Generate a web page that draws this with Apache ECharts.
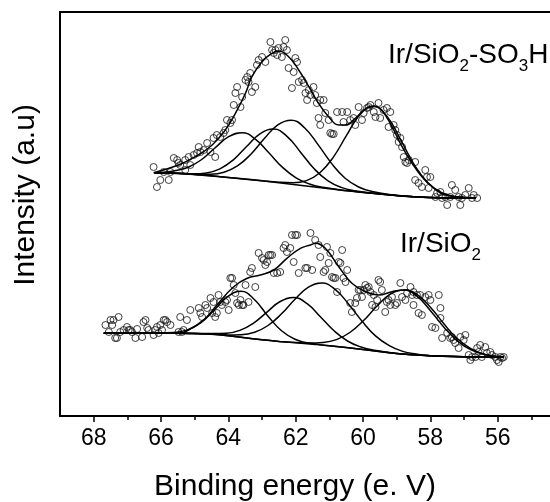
<!DOCTYPE html>
<html>
<head>
<meta charset="utf-8">
<script src="https://cdn.jsdelivr.net/npm/echarts@6.0.0/dist/echarts.min.js"></script>
<style>
  html, body { margin: 0; padding: 0; background: #fff; }
  #chart { width: 550px; height: 502px; }
</style>
</head>
<body>
<div id="chart"></div>
<script>
// Ir 4f XPS spectra: binding energy (eV) against intensity (arbitrary units)

const majorTicks = [56, 58, 60, 62, 64, 66, 68];
const minorTicks = [55, 57, 59, 61, 63, 65, 67];

// ---- Ir/SiO2-SO3H (upper spectrum) ----
const sulfonatedPoints = [
  [66.22,249],[66.12,229],[66.02,236],[65.92,244],[65.77,236],[65.72,244],[65.62,258],[65.52,256],[65.48,253],[65.43,251],
  [65.28,246],[65.28,256],[65.18,259],[65.13,251],[65.03,261],[64.93,263],[64.88,269],[64.83,264],[64.73,266],[64.63,273],
  [64.53,264],[64.44,278],[64.39,259],[64.34,281],[64.24,279],[64.14,283],[64.09,286],[64.04,296],[63.94,293],[63.89,296],
  [63.84,311],[63.79,323],[63.74,329],[63.64,309],[63.59,319],[63.49,336],[63.44,339],[63.40,334],[63.35,343],[63.30,324],
  [63.20,329],[63.15,351],[63.10,356],[63.00,359],[62.90,354],[62.75,374],[62.70,366],[62.65,363],[62.60,366],[62.55,361],
  [62.51,368],[62.41,359],[62.36,369],[62.31,376],[62.26,366],[62.21,348],[62.11,328],[62.06,344],[62.01,358],[61.96,354],
  [61.91,334],[61.81,336],[61.76,333],[61.71,323],[61.66,316],[61.61,326],[61.56,321],[61.47,329],[61.42,321],[61.37,313],
  [61.27,316],[61.17,316],[61.32,298],[61.27,291],[61.12,303],[61.02,296],[60.97,283],[60.92,282],[60.87,282],[60.77,304],
  [60.62,304],[60.47,304],[60.58,294],[60.38,296],[60.28,298],[60.23,291],[60.13,309],[60.03,296],[59.98,303],[59.88,308],
  [59.83,309],[59.78,311],[59.68,304],[59.63,299],[59.54,313],[59.49,298],[59.39,306],[59.29,308],[59.19,304],[59.24,289],
  [59.09,291],[59.04,286],[58.99,281],[58.94,274],[58.89,278],[58.84,269],[58.79,259],[58.74,254],[58.69,253],[58.64,256],
  [58.45,254],[58.45,236],[58.35,233],[58.25,229],[58.15,246],[58.10,239],[58.00,239],[58.05,228],[57.85,219],[57.80,223],
  [57.70,224],[57.65,218],[57.55,219],[57.50,211],[57.41,219],[57.36,231],[57.26,226],[57.16,219],[57.11,211],[57.06,218],
  [56.96,221],[56.86,228],[56.76,218],[56.71,221],[56.61,218]
];
const sulfonatedEnvelope = [
  [66.22,243.3],[65.48,251],[64.98,259.3],[64.48,271],[64.09,286],[63.79,302.7],[63.49,322.7],[63.30,339.3],[63.00,354.3],
  [62.70,362.7],[62.51,365],[62.21,359.3],[61.91,346],[61.61,329.3],[61.32,312.7],[61.02,299.3],[60.72,291],[60.52,291],
  [60.23,297.7],[59.90,308],[59.68,310],[59.43,305],[59.14,289.3],[58.84,269.3],[58.54,252.7],[58.25,239.3],[57.95,229.3],
  [57.55,221],[56.96,218.7],[56.66,217.7]
];
const sulfonatedBackground = [
  [66.2,243.3],[65.5,242.7],[65.0,241.5],[64.5,240.0],[64.0,238.5],[63.5,237.0],[63.0,235.2],[62.5,233.3],[62.0,231.3],
  [61.5,229.3],[61.0,227.3],[60.5,225.3],[60.0,223.6],[59.5,222.0],[59.0,220.5],[58.5,219.3],[58.0,218.5],[57.5,218.0],[56.66,217.7]
];
const sulfonatedPeak1 = [
  [66.2,243.3],[66.0,243.7],[65.59,245.2],[65.19,248.8],[64.79,256.5],[64.39,268.3],[63.99,279.3],[63.59,283.3],[63.19,276.7],
  [62.79,263.0],[62.39,248.6],[61.99,238.2],[61.59,232.0],[61.19,228.7],[60.5,225.4],[59.5,222.0],[58.5,219.3],[57.5,218.0],[56.66,217.7]
];
const sulfonatedPeak2 = [
  [66.2,243.3],[65.5,242.8],[65.05,242.2],[64.65,243.1],[64.25,247.2],[63.85,256.2],[63.45,269.7],[63.05,282.4],[62.65,286.9],
  [62.25,279.4],[61.85,263.6],[61.45,247.2],[61.05,235.4],[60.65,228.6],[60.25,225.2],[59.5,222.0],[58.5,219.3],[57.5,218.0],[56.66,217.7]
];
const sulfonatedPeak3 = [
  [66.2,243.3],[65.5,242.7],[64.93,241.6],[64.53,241.7],[64.13,243.8],[63.73,250.1],[63.33,261.8],[62.93,277.4],[62.53,291.2],
  [62.13,295.8],[61.73,288.0],[61.33,271.1],[60.93,252.4],[60.53,237.8],[60.13,229.0],[59.73,224.4],[59.0,220.6],[58.5,219.3],
  [57.5,218.0],[56.66,217.7]
];
const sulfonatedPeak4 = [
  [66.2,243.3],[65.0,241.5],[64.0,238.5],[63.0,235.2],[62.48,233.7],[62.08,233.2],[61.68,235.4],[61.28,243.2],[60.88,258.9],
  [60.48,281.1],[60.08,301.8],[59.68,309.6],[59.28,299.3],[58.88,276.2],[58.48,251.4],[58.08,233.6],[57.68,223.6],[57.28,219.5],[56.66,217.7]
];

// ---- Ir/SiO2 (lower spectrum) ----
const silicaPoints = [
  [67.65,91],[67.55,84],[67.50,96],[67.45,91],[67.41,96],[67.36,78],[67.31,78],[67.26,99],[67.21,84],[67.11,86],
  [67.01,89],[66.96,86],[66.91,86],[66.86,84],[66.76,78],[66.71,87],[66.56,79],[66.52,94],[66.46,96],[66.41,88],
  [66.37,86],[66.22,81],[66.17,86],[66.12,89],[66.07,83],[66.02,91],[65.97,86],[65.92,96],[65.87,96],[65.82,94],
  [65.72,91],[65.48,84],[65.43,99],[65.38,84],[65.33,86],[65.23,96],[65.13,106],[64.88,108],[64.83,103],[64.78,99],
  [64.68,111],[64.63,108],[64.53,118],[64.48,103],[64.44,114],[64.39,99],[64.34,103],[64.29,121],[64.24,114],[64.19,111],
  [64.09,114],[64.04,116],[63.99,106],[63.94,138],[63.89,138],[63.84,131],[63.79,123],[63.74,113],[63.69,111],[63.64,116],
  [63.59,111],[63.55,111],[63.49,131],[63.40,114],[63.35,144],[63.30,148],[63.20,129],[63.10,163],[63.00,158],[62.95,156],
  [62.90,151],[62.85,154],[62.80,161],[62.75,161],[62.70,161],[62.65,143],[62.55,143],[62.46,144],[62.36,168],[62.31,171],
  [62.26,164],[62.16,168],[62.11,181],[62.01,181],[62.06,154],[61.96,181],[61.91,143],[61.71,148],[61.66,148],[61.56,183],
  [61.42,176],[61.32,171],[61.51,146],[61.27,159],[61.17,144],[61.12,146],[61.07,169],[61.02,153],[60.97,163],[60.92,139],
  [60.87,138],[60.82,138],[60.77,124],[60.72,154],[60.67,153],[60.62,166],[60.58,138],[60.52,134],[60.47,146],[60.38,113],
  [60.33,104],[60.23,113],[60.18,118],[60.13,126],[60.08,126],[60.03,119],[59.98,126],[59.93,131],[59.88,128],[59.83,129],
  [59.78,124],[59.73,111],[59.68,121],[59.63,109],[59.58,116],[59.54,136],[59.49,134],[59.44,126],[59.34,104],[59.29,114],
  [59.24,116],[59.19,111],[59.14,119],[59.04,111],[58.99,113],[58.89,133],[58.84,119],[58.74,116],[58.69,123],[58.59,129],
  [58.54,121],[58.50,111],[58.50,124],[58.40,121],[58.30,121],[58.15,119],[58.05,121],[58.00,116],[57.75,121],[58.35,103],
  [58.25,101],[57.70,108],[57.70,98],[57.95,89],[57.85,88],[57.65,78],[57.50,83],[57.41,78],[57.36,79],[57.31,76],
  [57.26,73],[57.16,68],[57.11,79],[57.01,76],[56.96,81],[56.86,61],[56.81,56],[56.76,59],[56.66,59],[56.61,68],
  [56.57,64],[56.52,71],[56.47,59],[56.37,69],[56.32,63],[56.22,64],[56.17,61],[56.07,59],[56.02,56],[55.97,54],
  [55.92,59],[55.87,58],[55.82,59]
];
const silicaEnvelope = [
  [67.70,82.7],[65.57,82.7],[65.18,86],[64.68,97.7],[64.34,111],[63.84,129.3],[63.44,137.7],[63.05,141],[62.65,146],
  [62.26,157.7],[61.86,167.7],[61.56,171],[61.42,172.7],[61.12,167.7],[60.72,149.3],[60.33,132.7],[59.93,124.3],[59.54,121],
  [59.14,124.3],[58.74,126],[58.45,122.7],[58.20,116],[57.90,105],[57.61,92.7],[57.21,77.7],[56.81,67.7],[56.32,61],[55.82,58.7]
];
const silicaBackground = [
  [67.7,82.7],[65.0,82.6],[64.5,82.0],[64.0,80.2],[63.5,78.3],[63.0,76.2],[62.5,74.6],[62.0,73.2],[61.5,71.8],[61.0,70.3],
  [60.5,68.5],[60.0,66.5],[59.5,64.5],[59.0,62.6],[58.5,61.2],[58.0,60.3],[57.5,59.8],[57.0,59.3],[56.0,58.8],[55.82,58.7]
];
const silicaPeak1 = [
  [67.7,82.7],[66.5,82.7],[65.62,83.5],[65.22,86.1],[64.82,93.2],[64.42,105.9],[64.02,119.4],[63.62,124.8],[63.22,116.2],
  [62.82,99.8],[62.42,85.2],[62.02,76.8],[61.62,72.9],[61.0,70.3],[60.0,66.5],[59.0,62.6],[58.0,60.3],[57.0,59.3],[55.82,58.7]
];
const silicaPeak2 = [
  [67.7,82.7],[66.0,82.7],[65.0,82.6],[64.46,82.5],[64.06,82.7],[63.66,85.6],[63.26,92.7],[62.86,103.7],[62.46,114.5],
  [62.06,118.4],[61.66,112.3],[61.26,99.0],[60.86,85.2],[60.46,75.0],[60.06,69.0],[59.66,65.7],[59.0,62.6],[58.0,60.3],
  [57.0,59.3],[55.82,58.7]
];
const silicaPeak3 = [
  [67.7,82.7],[66.0,82.7],[65.0,82.6],[64.42,81.9],[64.02,81.1],[63.62,81.3],[63.22,83.8],[62.82,90.5],[62.42,102.2],
  [62.02,116.7],[61.62,128.8],[61.22,133.0],[60.82,126.3],[60.42,111.6],[60.02,94.4],[59.62,79.9],[59.22,70.4],[58.82,64.6],
  [58.42,61.9],[58.0,60.3],[57.0,59.3],[55.82,58.7]
];
const silicaPeak4 = [
  [67.7,82.7],[66.0,82.7],[65.0,82.6],[64.0,80.2],[63.0,76.2],[62.39,74.3],[61.99,73.4],[61.59,72.9],[61.19,73.5],[60.79,76.4],
  [60.39,83.5],[59.99,95.2],[59.59,109.7],[59.19,121.9],[58.79,126.0],[58.39,119.6],[57.99,105.1],[57.59,88.6],[57.19,74.9],
  [56.79,66.1],[56.39,61.6],[55.99,59.6],[55.82,59.2]
];

const FONT = '"Liberation Sans", Arial, Helvetica, sans-serif';
const INK = '#000';

function curve(name, data) {
  return {
    name, type: 'line', data, smooth: 0.45, showSymbol: false, symbol: 'none',
    lineStyle: { color: INK, width: 1.5 }, z: 3, silent: true
  };
}
function dots(name, data) {
  return {
    name, type: 'scatter', data, symbol: 'circle', symbolSize: 7,
    itemStyle: { color: 'rgba(0,0,0,0)', borderColor: '#111', borderWidth: 1 }, z: 2, silent: true
  };
}

const chart = echarts.init(document.getElementById('chart'), null, { renderer: 'canvas' });

const energyRange = { type: 'value', inverse: true, min: 54, max: 69, interval: 2, splitLine: { show: false } };

chart.setOption({
  animation: false,
  backgroundColor: '#fff',
  grid: {
    left: 60, top: 12, right: -15, bottom: 86,
    show: false, containLabel: false, outerBoundsMode: 'none'
  },
  xAxis: [
    Object.assign({}, energyRange, {
      position: 'bottom',
      axisLine: { show: true, lineStyle: { color: INK, width: 2 } },
      axisTick: { show: true, inside: false, length: 6, customValues: majorTicks, lineStyle: { color: INK, width: 1.5 } },
      minorTick: { show: false },
      axisLabel: { show: true, customValues: majorTicks, margin: 11, color: INK, fontSize: 23, fontFamily: FONT }
    }),
    Object.assign({}, energyRange, {
      position: 'bottom', offset: 0,
      axisLine: { show: false },
      axisTick: { show: true, inside: false, length: 4, customValues: minorTicks, lineStyle: { color: INK, width: 1.5 } },
      axisLabel: { show: false }
    }),
    Object.assign({}, energyRange, {
      position: 'top', offset: 0,
      axisLine: { show: true, lineStyle: { color: INK, width: 2 } },
      axisTick: { show: false },
      axisLabel: { show: false }
    })
  ],
  yAxis: {
    type: 'value', min: 0, max: 404, position: 'left',
    axisLine: { show: true, lineStyle: { color: INK, width: 2 } },
    axisTick: { show: false }, axisLabel: { show: false }, splitLine: { show: false }
  },
  graphic: [
    {
      type: 'text', x: 26, y: 195, rotation: Math.PI / 2,
      style: { text: 'Intensity (a.u)', font: '30px ' + FONT, fill: INK, align: 'center', verticalAlign: 'middle' }
    },
    {
      type: 'text', x: 295, y: 487,
      style: { text: 'Binding energy (e. V)', font: '30px ' + FONT, fill: INK, align: 'center', verticalAlign: 'middle' }
    },
    {
      type: 'text', x: 388, y: 35,
      style: {
        text: '{m|Ir/SiO}{s|2}{m|-SO}{s|3}{m|H}', align: 'left', verticalAlign: 'top', fill: INK,
        rich: {
          m: { fontSize: 28, fontFamily: FONT, lineHeight: 40, fill: INK },
          s: { fontSize: 17, fontFamily: FONT, lineHeight: 4, verticalAlign: 'bottom', fill: INK }
        }
      }
    },
    {
      type: 'text', x: 400, y: 224,
      style: {
        text: '{m|Ir/SiO}{s|2}', align: 'left', verticalAlign: 'top', fill: INK,
        rich: {
          m: { fontSize: 28, fontFamily: FONT, lineHeight: 40, fill: INK },
          s: { fontSize: 17, fontFamily: FONT, lineHeight: 4, verticalAlign: 'bottom', fill: INK }
        }
      }
    }
  ],
  series: [
    dots('Ir/SiO2-SO3H data', sulfonatedPoints),
    curve('Ir/SiO2-SO3H background', sulfonatedBackground),
    curve('Ir/SiO2-SO3H peak 1', sulfonatedPeak1),
    curve('Ir/SiO2-SO3H peak 2', sulfonatedPeak2),
    curve('Ir/SiO2-SO3H peak 3', sulfonatedPeak3),
    curve('Ir/SiO2-SO3H peak 4', sulfonatedPeak4),
    curve('Ir/SiO2-SO3H envelope', sulfonatedEnvelope),
    dots('Ir/SiO2 data', silicaPoints),
    curve('Ir/SiO2 background', silicaBackground),
    curve('Ir/SiO2 peak 1', silicaPeak1),
    curve('Ir/SiO2 peak 2', silicaPeak2),
    curve('Ir/SiO2 peak 3', silicaPeak3),
    curve('Ir/SiO2 peak 4', silicaPeak4),
    curve('Ir/SiO2 envelope', silicaEnvelope)
  ]
});
</script>
</body>
</html>
